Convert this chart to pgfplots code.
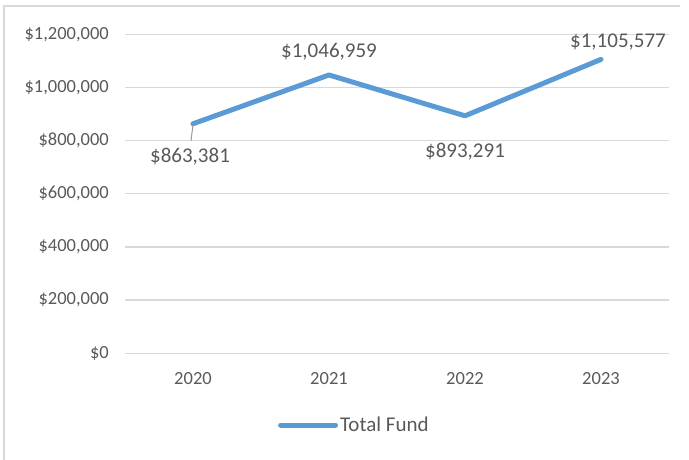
\documentclass[border=0pt]{standalone}
\usepackage{pgfplots}
\pgfplotsset{compat=1.18}
\usepackage{fontspec}
\setmainfont{Carlito}
\definecolor{txt}{HTML}{595959}
\definecolor{gridc}{HTML}{D9D9D9}
\definecolor{ser}{HTML}{5B9BD5}
\begin{document}
\begin{tikzpicture}[x=1pt,y=1pt]
\useasboundingbox (0,0) rectangle (689,460);
\draw[gridc, line width=1.2pt] (4,0) -- (4,454) -- (680,454);
\begin{axis}[at={(125pt,106.7pt)}, anchor=south west, scale only axis,
  width=544pt, height=319pt,
  xmin=-0.5, xmax=3.5, ymin=0, ymax=1200000,
  axis line style={draw=none},
  ytick={0,200000,400000,600000,800000,1000000,1200000},
  ymajorgrids, major grid style={gridc, line width=1.3pt},
  xtick={0,1,2,3}, xticklabels={2020,2021,2022,2023},
  major tick length=0pt,
  scaled y ticks=false,
  /pgf/number format/assume math mode=true,
  yticklabel={\$\pgfmathprintnumber[fixed,1000 sep={,},precision=0]{\tick}},
  yticklabel style={font=\fontsize{18.5}{20}\selectfont, text=txt, anchor=east, inner sep=0pt, xshift=-16pt},
  xticklabel style={font=\fontsize{18.5}{20}\selectfont, text=txt, anchor=north, inner sep=0pt, yshift=-19pt},
  clip=false,
  legend style={at={(0.281,-0.225)}, anchor=west, draw=none, fill=none,
    font=\fontsize{21}{24}\selectfont, text=txt, inner sep=0pt,
    nodes={inner sep=2pt}},
  legend image code/.code={\draw[#1, line cap=round] (0pt,0pt) -- (55pt,0pt);},
]
\addplot[ser, line width=5pt, line cap=round, line join=round, mark=none]
  coordinates {(0,863381) (1,1046959) (2,893291) (3,1105577)};
\addlegendentry{Total Fund}
\draw[gray!80, line width=1pt] (axis cs:0,863381) ++(0pt,-1pt) -- ++(-2pt,-16pt);
\node[text=txt, font=\fontsize{21}{24}\selectfont] at (axis cs:0,863381) [xshift=-3pt, yshift=-33pt] {\$863,381};
\node[text=txt, font=\fontsize{21}{24}\selectfont] at (axis cs:1,1046959) [yshift=23pt] {\$1,046,959};
\node[text=txt, font=\fontsize{21}{24}\selectfont] at (axis cs:2,893291) [yshift=-36pt] {\$893,291};
\node[text=txt, font=\fontsize{21}{24}\selectfont] at (axis cs:3,1105577) [xshift=17pt, yshift=17pt] {\$1,105,577};
\end{axis}
\end{tikzpicture}
\end{document}
